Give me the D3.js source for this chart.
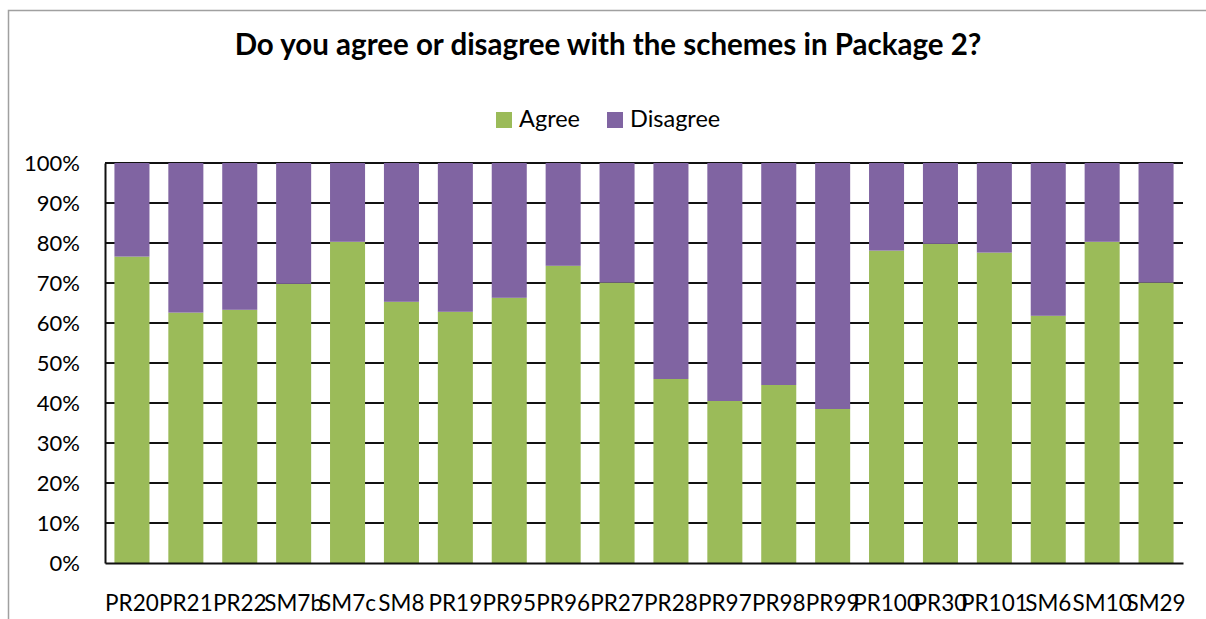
<!DOCTYPE html>
<head>
  <meta charset="utf-8">
  <script src="https://d3js.org/d3.v7.min.js"></script>
  <style>
body { margin:0; background:#fff; }
text { font-family: Lato, "Open Sans", sans-serif; fill:#000; }
.title { font-size: 29.5px; font-weight: bold; }
.tick text { font-size: 22px; }
.x-axis .tick text { font-size: 22.5px; }
.legend text { font-size: 23.5px; }
  </style>
</head>
<body>
<script>
const schemes = ['PR20','PR21','PR22','SM7b','SM7c','SM8','PR19','PR95','PR96','PR27',
  'PR28','PR97','PR98','PR99','PR100','PR30','PR101','SM6','SM10','SM29']
const agree = [76.6,62.6,63.3,69.8,80.3,65.3,62.8,66.3,74.3,70.1,
  46,40.5,44.5,38.5,78.1,79.8,77.6,61.8,80.3,70.1]
const disagree = agree.map(a => 100 - a)
const seriesNames = ['Agree','Disagree']
const colors = ['#9BBB59','#8064A2']
const yTicks = [0,10,20,30,40,50,60,70,80,90,100]

const W = 1206, H = 619
const margin = { top: 163, right: 23, bottom: 56, left: 105 }

const svg = d3.select('body').append('svg').attr('width', W).attr('height', H)

// chart frame
svg.append('rect')
  .attr('x', 8.5).attr('y', 10.5).attr('width', W).attr('height', H)
  .attr('fill', 'none').attr('stroke', '#a0a0a0').attr('stroke-width', 1.5)

svg.append('text').attr('class', 'title')
  .attr('x', 608).attr('y', 55).attr('text-anchor', 'middle')
  .text('Do you agree or disagree with the schemes in Package 2?')

const x = d3.scaleBand().domain(schemes)
  .range([margin.left, W - margin.right]).paddingInner(0.35).paddingOuter(0.175)
const y = d3.scaleLinear().domain([0, 100]).range([H - margin.bottom, margin.top])

const rows = schemes.map((s, i) => ({ scheme: s, Agree: agree[i], Disagree: disagree[i] }))
const stack = d3.stack().keys(seriesNames)(rows)

// gridlines
svg.append('g').selectAll('line').data(yTicks.slice(1)).join('line')
  .attr('x1', margin.left).attr('x2', W - margin.right)
  .attr('y1', d => y(d)).attr('y2', d => y(d))
  .attr('stroke', '#111').attr('stroke-width', 2)

svg.append('g').selectAll('g').data(stack).join('g')
  .attr('fill', (d, i) => colors[i])
  .selectAll('rect').data(d => d).join('rect')
  .attr('x', d => x(d.data.scheme))
  .attr('width', x.bandwidth())
  .attr('y', d => y(d[1]))
  .attr('height', d => y(d[0]) - y(d[1]))

const yAxis = svg.append('g')
  .attr('transform', `translate(${margin.left},0)`)
  .call(d3.axisLeft(y).tickValues(yTicks).tickFormat(d => d + '%').tickSize(0).tickPadding(25))
yAxis.select('.domain').attr('stroke', '#111').attr('stroke-width', 2)

const xAxis = svg.append('g').attr('class', 'x-axis')
  .attr('transform', `translate(0,${H - margin.bottom})`)
  .call(d3.axisBottom(x).tickSize(0).tickPadding(32))
xAxis.select('.domain').attr('stroke', '#111').attr('stroke-width', 2)

const legend = svg.append('g').attr('class', 'legend')
const legX = [496, 607]
seriesNames.forEach((n, i) => {
  legend.append('rect').attr('x', legX[i]).attr('y', 112).attr('width', 16).attr('height', 16)
    .attr('fill', colors[i])
  legend.append('text').attr('x', legX[i] + 23).attr('y', 127).text(n)
})
</script>
</body>
